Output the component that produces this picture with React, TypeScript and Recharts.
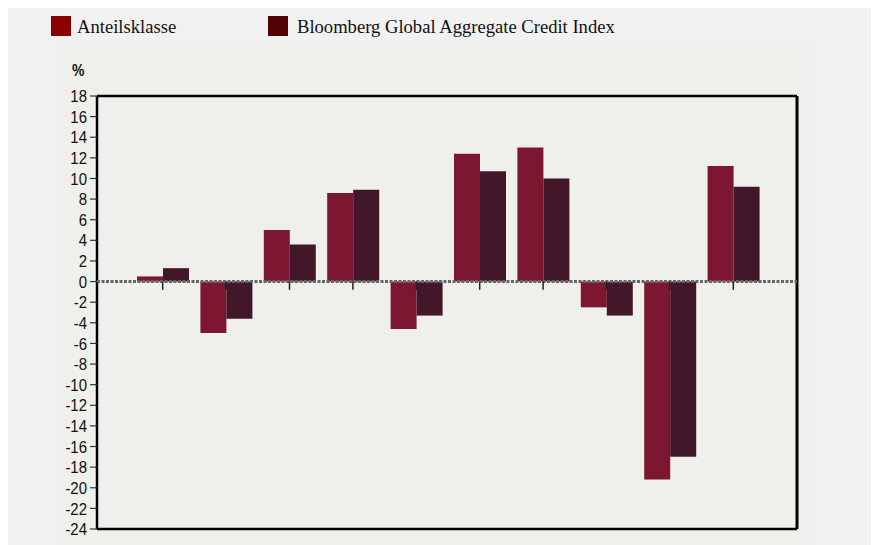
import React from 'react';
import { BarChart, Bar, XAxis, YAxis, ReferenceLine } from 'recharts';

const categories = ['2014', '2015', '2016', '2017', '2018', '2019', '2020', '2021', '2022', '2023'];
const anteilsklasse = [0.5, -5.0, 5.0, 8.6, -4.6, 12.4, 13.0, -2.5, -19.2, 11.2];
const benchmark = [1.3, -3.6, 3.6, 8.9, -3.3, 10.7, 10.0, -3.3, -17.0, 9.2];
const seriesNames = ['Anteilsklasse', 'Bloomberg Global Aggregate Credit Index'];
const barColors = ['#7d1631', '#43172a'];
const legendColors = ['#8b0000', '#520000'];
const yTicks = [-24, -22, -20, -18, -16, -14, -12, -10, -8, -6, -4, -2, 0, 2, 4, 6, 8, 10, 12, 14, 16, 18];
const yUnit = '%';

const data = categories.map((c, i) => ({ cat: c, a: anteilsklasse[i], b: benchmark[i] }));

const W = 871;
const H = 537;

const YTick = (props: any) => {
  const { x, y, payload } = props;
  return (
    <g transform={`translate(${x},${y})`}>
      <text
        transform="scale(0.88,1)"
        textAnchor="end"
        dy="0.36em"
        fill="#111"
        fontSize={17}
        fontFamily='"Liberation Sans", Arial, sans-serif'
      >
        {payload.value}
      </text>
    </g>
  );
};

export default function App() {
  return (
    <div style={{ position: 'relative', width: W, height: H, background: '#f1f1f1', overflow: 'hidden' }}>
      <div style={{ position: 'absolute', left: 53, top: 38, width: 753, height: 499, background: '#efefeb' }} />
      {seriesNames.map((n, i) => (
        <div key={n} style={{ position: 'absolute', left: i === 0 ? 43 : 260, top: 8, height: 20 }}>
          <div style={{ position: 'absolute', left: 0, top: 0, width: 20, height: 20, background: legendColors[i] }} />
          <span
            style={{
              position: 'absolute',
              left: i === 0 ? 26 : 29,
              top: 1,
              whiteSpace: 'nowrap',
              fontFamily: '"Liberation Serif", "Times New Roman", serif',
              fontSize: 18.6,
              lineHeight: '20px',
              color: '#111',
            }}
          >
            {n}
          </span>
        </div>
      ))}
      <span
        style={{
          position: 'absolute',
          left: 64,
          top: 54,
          fontFamily: '"Liberation Sans", Arial, sans-serif',
          fontSize: 16.5,
          fontWeight: 'bold',
          lineHeight: '16px',
          color: '#111',
          transform: 'scaleX(0.85)',
          transformOrigin: 'left top',
        }}
      >
        {yUnit}
      </span>
      <div style={{ position: 'absolute', left: 0, top: 0 }}>
        <BarChart
          width={W}
          height={H}
          data={data}
          margin={{ top: 87, right: 81, bottom: 15, left: 40 }}
          barGap={0}
          barSize={26}
        >
          <XAxis
            dataKey="cat"
            height={1}
            tick={false}
            tickLine={false}
            axisLine={{ stroke: '#000', strokeWidth: 2.5 }}
            padding={{ left: 34, right: 32 }}
          />
          <XAxis
            xAxisId="top"
            orientation="top"
            dataKey="cat"
            height={1}
            tick={false}
            tickLine={false}
            axisLine={{ stroke: '#000', strokeWidth: 2.5 }}
            padding={{ left: 34, right: 32 }}
          />
          <YAxis
            type="number"
            domain={[-24, 18]}
            ticks={yTicks}
            interval={0}
            width={49}
            tickSize={7}
            tickMargin={3}
            axisLine={{ stroke: '#000', strokeWidth: 2.5 }}
            tickLine={{ stroke: '#333', strokeWidth: 1.2 }}
            tick={<YTick />}
          />
          <YAxis
            yAxisId="right"
            orientation="right"
            type="number"
            domain={[0, 1]}
            width={1}
            tick={false}
            tickLine={false}
            axisLine={{ stroke: '#000', strokeWidth: 3 }}
          />
          <Bar dataKey="a" name={seriesNames[0]} fill={barColors[0]} isAnimationActive={false} />
          <Bar dataKey="b" name={seriesNames[1]} fill={barColors[1]} isAnimationActive={false} />
          <ReferenceLine y={0} stroke="#666" strokeWidth={3} strokeDasharray="3 1.5" zIndex={550} />
          {categories.map((c) => (
            <ReferenceLine
              key={c}
              segment={[{ x: c, y: 0 }, { x: c, y: -0.8 }]}
              stroke="#222"
              strokeWidth={1.5}
              zIndex={600}
            />
          ))}
        </BarChart>
      </div>
    </div>
  );
}
